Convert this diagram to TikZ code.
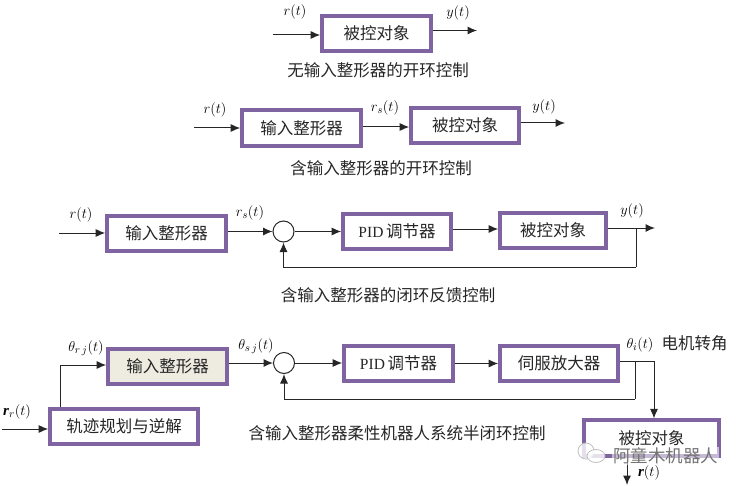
\documentclass[tikz,border=0pt]{standalone}
\usepackage{fontspec}
\setmainfont{Liberation Serif}
\newfontfamily\cjk{Noto Sans CJK SC}
\usetikzlibrary{arrows.meta,calc}
\definecolor{boxpurple}{HTML}{8064A2}
\definecolor{boxfill}{HTML}{EEECE1}
\newcommand{\cjksize}{\fontsize{16.5}{17}\selectfont}
\tikzset{
  blockbox/.style={draw=boxpurple,line width=3.6pt,inner sep=0pt,minimum width=#1,align=center,font=\cjk\cjksize,text=black!85,minimum height=35.5pt},
  blockbox/.default=106pt,
  caption/.style={inner sep=0pt,font=\cjk\cjksize,text=black!85},
  siglabel/.style={inner sep=0pt,font=\fontsize{15}{16}\selectfont},
  sumnode/.style={circle,draw=black!85,line width=1pt,minimum size=21pt,inner sep=0pt},
  link/.style={draw=black!85,line width=1pt,-{Latex[length=9.5pt,width=8pt]}},
  plainlink/.style={draw=black!85,line width=1pt},
  mark text/.style={inner sep=1pt,font=\cjk\fontsize{17.5}{18}\selectfont,text=black!55,fill=white,fill opacity=0.55,text opacity=1},
}
\begin{document}
\begin{tikzpicture}[x=1pt,y=-1pt]
\useasboundingbox (0,0) rectangle (743,486);
% row 1
\node[blockbox=109pt] (p1) at (376.5,33.5) {被控对象};
\coordinate (i1) at (273,35);
\coordinate (o1) at (477,30.5);
\draw[link] (i1) -- (i1 -| p1.west);
\draw[link] (o1 -| p1.east) -- (o1);
\node[siglabel] (l1a) at (295,12) {$r(t)$};
\node[siglabel] (l1b) at (458,13) {$y(t)$};
\node[caption] (c1) at (378,70) {无输入整形器的开环控制};
% row 2
\node[blockbox=119pt] (s2) at (301.5,128) {输入整形器};
\node[blockbox=108pt] (p2) at (465,125.5) {被控对象};
\coordinate (i2) at (194,128);
\coordinate (m2) at (385,127);
\coordinate (o2) at (565,123);
\draw[link] (i2) -- (i2 -| s2.west);
\draw[link] (m2 -| s2.east) -- (m2 -| p2.west);
\draw[link] (o2 -| p2.east) -- (o2);
\node[siglabel] (l2a) at (215,110) {$r(t)$};
\node[siglabel] (l2b) at (385,108) {$r_s(t)$};
\node[siglabel] (l2c) at (544,107) {$y(t)$};
\node[caption] (c2) at (381,168) {含输入整形器的开环控制};
% row 3
\node[blockbox=119pt] (s3) at (166.5,233.5) {输入整形器};
\node[sumnode] (j3) at (283.5,231.5) {};
\node[blockbox=108pt] (pid3) at (397,231.5) {\fontsize{15.5}{16}\selectfont\rmfamily PID\,\cjk\cjksize 调节器};
\node[blockbox=106pt] (p3) at (553,230.5) {被控对象};
\coordinate (i3) at (59,233);
\coordinate (o3) at (655,228);
\coordinate (t3) at (636,228);
\coordinate (f3) at (636,267);
\draw[link] (i3) -- (i3 -| s3.west);
\draw[link] (s3.east |- j3) -- (j3.west);
\draw[link] (j3.east) -- (j3 -| pid3.west);
\draw[link] (pid3.east |- 0,229) -- (p3.west |- 0,229);
\draw[link] (o3 -| p3.east) -- (o3);
\draw[plainlink] (t3) -- (f3);
\draw[link] (f3) -- (f3 -| j3) -- (j3.south);
\node[siglabel] (l3a) at (81,215) {$r(t)$};
\node[siglabel] (l3b) at (250,213) {$r_s(t)$};
\node[siglabel] (l3c) at (632,211) {$y(t)$};
\node[caption] (c3) at (388,295) {含输入整形器的闭环反馈控制};
% row 4
\node[blockbox=119pt,fill=boxfill] (s4) at (167.5,366.5) {输入整形器};
\node[blockbox=148pt] (t4) at (124,426.5) {轨迹规划与逆解};
\node[sumnode] (j4) at (284,363) {};
\node[blockbox=109pt] (pid4) at (398.5,363.5) {\fontsize{15.5}{16}\selectfont\rmfamily PID\,\cjk\cjksize 调节器};
\node[blockbox=118pt] (v4) at (559,363.5) {伺服放大器};
\node[blockbox=135pt] (p4) at (651.5,438) {被控对象};
\coordinate (i4) at (2,429);
\coordinate (u4) at (60,365);
\coordinate (o4) at (654,361);
\coordinate (b4) at (635,361);
\coordinate (f4) at (635,399);
\coordinate (e4) at (627,485);
\draw[link] (i4) -- (i4 -| t4.west);
\draw[link] (u4 |- t4.north) -- (u4) -- (u4 -| s4.west);
\draw[link] (s4.east |- j4) -- (j4.west);
\draw[link] (j4.east) -- (j4 -| pid4.west);
\draw[link] (pid4.east) -- (v4.west);
\draw[link] (o4 -| v4.east) -- (o4) -- (o4 |- p4.north);
\draw[plainlink] (b4) -- (f4);
\draw[link] (f4) -- (f4 -| j4) -- (j4.south);
\draw[link] (e4 |- p4.south) -- (e4);
\node[siglabel] (l4a) at (86,348) {$\theta_{r\,j}(t)$};
\node[siglabel] (l4b) at (256,346) {$\theta_{s\,j}(t)$};
\node[siglabel] (l4c) at (17,412) {\textbf{\textit{r}}$_{r}(t)$};
\node[siglabel] (l4d) at (640,345) {$\theta_{i}(t)$};
\node[caption] (n4) at (694.5,343.5) {电机转角};
\node[siglabel] (l4e) at (649,473) {\textbf{\textit{r}}$(t)$};
\node[caption] (c4) at (397,433) {含输入整形器柔性机器人系统半闭环控制};
% watermark
\node[mark text] (wm) at (665.5,456) {阿童木机器人};
\draw[black!25,line width=0.8pt,fill=white,fill opacity=0.8] (586,451) ellipse (8pt and 8pt);
\draw[black!25,line width=0.8pt,fill=white,fill opacity=0.8] (596,456) ellipse (9pt and 6.5pt);
\end{tikzpicture}
\end{document}
